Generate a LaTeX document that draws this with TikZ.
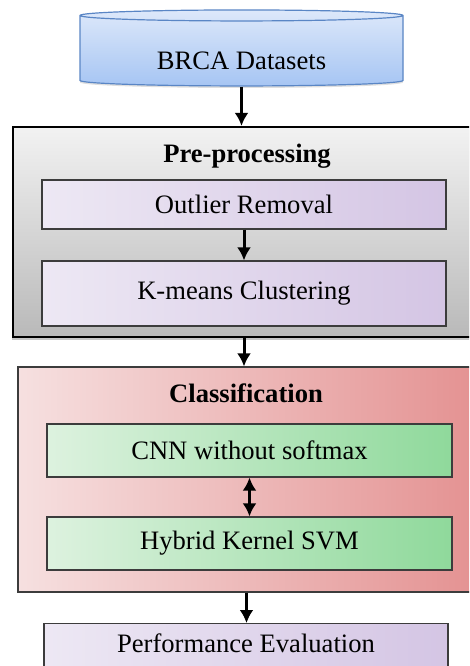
\documentclass[tikz,border=0pt]{standalone}
\usepackage{fontspec}
\setmainfont{Liberation Serif}
\usetikzlibrary{shapes.geometric,shadows,arrows.meta}
\definecolor{dbtop}{HTML}{DDE8FA}
\definecolor{dbbot}{HTML}{A6C5F3}
\definecolor{dbline}{HTML}{5A86C5}
\definecolor{pretop}{HTML}{F2F2F2}
\definecolor{prebot}{HTML}{B9B9B9}
\definecolor{lavA}{HTML}{EDE8F4}
\definecolor{lavB}{HTML}{D4C5E4}
\definecolor{clsA}{HTML}{F6E0E0}
\definecolor{clsB}{HTML}{E49292}
\definecolor{grnA}{HTML}{DDF2DF}
\definecolor{grnB}{HTML}{8FD99B}
\definecolor{boxline}{HTML}{3C3C3C}

\begin{document}
\begin{tikzpicture}[x=1pt,y=-1pt]
\tikzstyle{every node}+=[inner sep=0pt, font=\fontsize{26.6}{30}\selectfont]
\tikzstyle{arr}=[line width=3pt, -{Latex[length=13pt,width=14pt]}]
\tikzstyle{lavbox}=[draw=boxline, line width=1.2pt, minimum width=404pt, left color=lavA, right color=lavB]
\tikzstyle{grnbox}=[draw=boxline, line width=1.2pt, minimum width=405pt, minimum height=53pt, left color=grnA, right color=grnB]
\clip (0,0) rectangle (469,666);
\node[cylinder, shape border rotate=90, aspect=0.065, draw=dbline, line width=1.2pt, top color=dbtop, bottom color=dbbot, minimum width=323pt, minimum height=76pt, text height=40pt, text depth=2pt, drop shadow={shadow xshift=0pt, shadow yshift=-2pt, opacity=0.25}] (data) at (241.5,51) {BRCA Datasets};
\node[draw=black, line width=2.2pt, minimum width=462pt, minimum height=210pt, top color=pretop, bottom color=prebot, drop shadow={shadow xshift=-1.5pt, shadow yshift=-3pt, opacity=0.45}] (pre) at (244,232) {};
\node[font=\fontsize{26.6}{30}\selectfont\bfseries] (pretitle) at (247,156) {Pre-processing};
\node[lavbox, minimum height=49pt] (outlier) at (244,204.5) {Outlier Removal};
\node[lavbox, minimum height=65pt] (kmeans) at (244,293.5) {K-means Clustering};
\node[draw=boxline, line width=1.2pt, minimum width=457pt, minimum height=225pt, left color=clsA, right color=clsB] (cls) at (246.5,479.5) {};
\node[font=\fontsize{26.6}{30}\selectfont\bfseries] (clstitle) at (246,393) {Classification};
\node[grnbox] (cnn) at (249.5,450.5) {CNN without softmax};
\node[grnbox] (svm) at (249.5,543.5) {Hybrid Kernel SVM};
\node[lavbox, anchor=north, text height=18pt, text depth=30pt, inner ysep=11pt] (perf) at (246,623) {Performance Evaluation};
\draw[arr] (data.south) -- (data.south |- pre.north);
\draw[arr] (outlier) -- (kmeans);
\draw[arr] (pre.south) -- (pre.south |- cls.north);
\draw[line width=3pt, {Latex[length=13pt,width=14pt]}-{Latex[length=13pt,width=14pt]}] (cnn) -- (svm);
\draw[arr] (cls.south) -- (cls.south |- perf.north);
\end{tikzpicture}
\end{document}
